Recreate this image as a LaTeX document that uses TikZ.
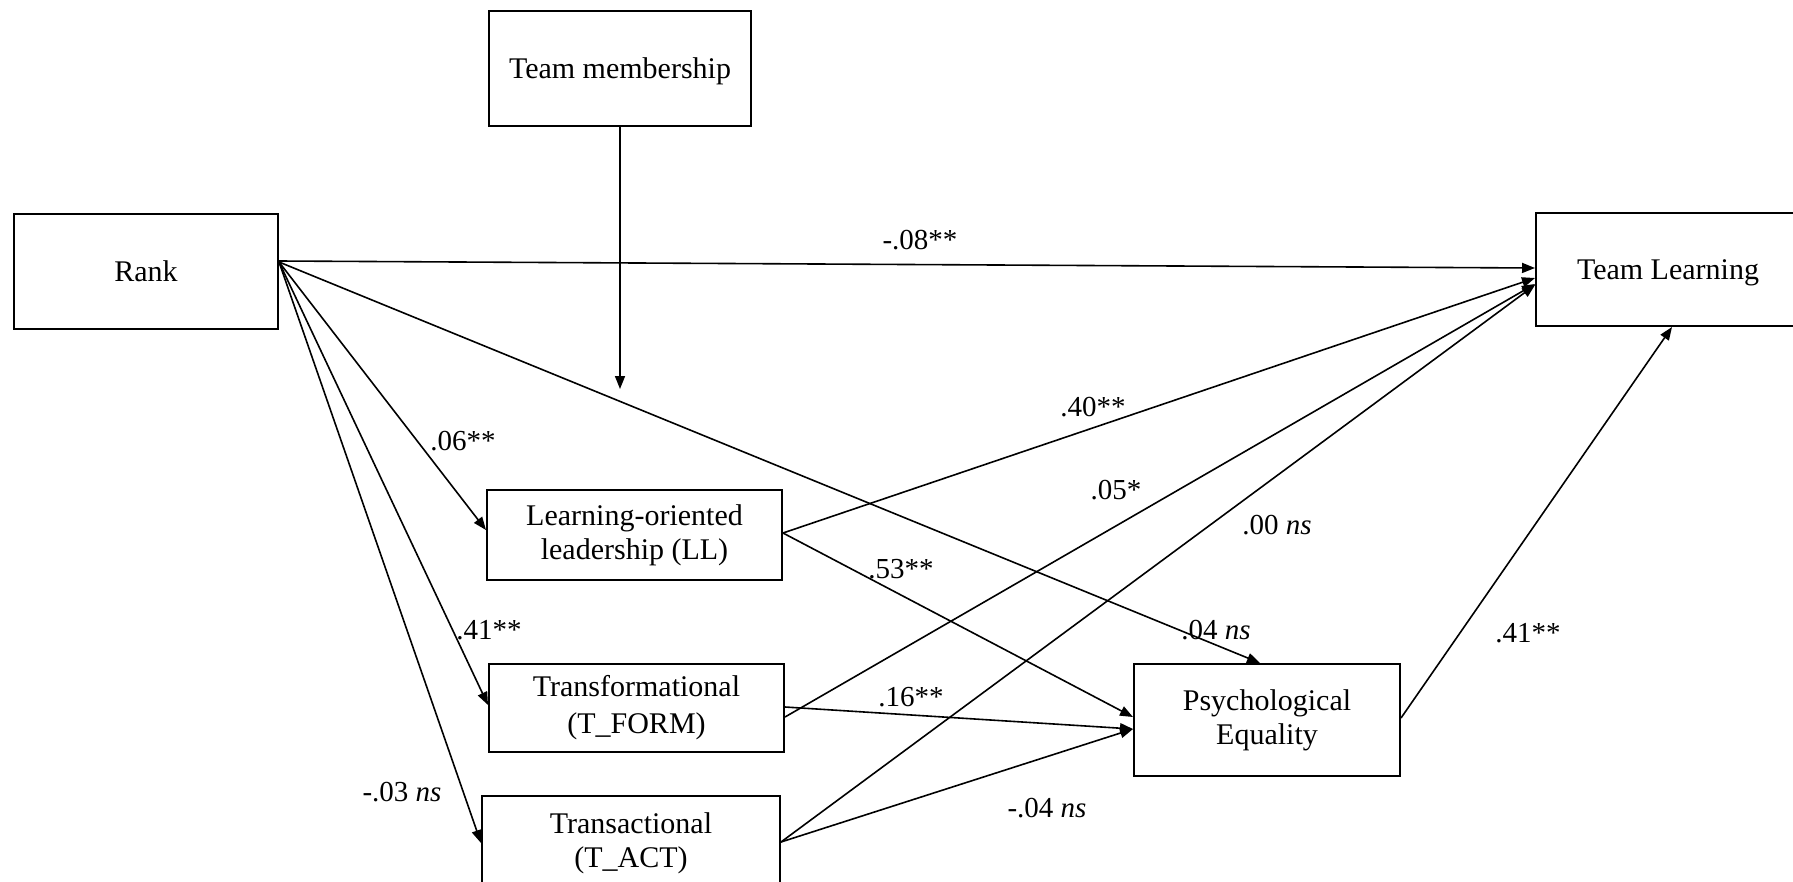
\documentclass[tikz,border=0pt]{standalone}
\usepackage{fontspec}
\setmainfont{Liberation Serif}
\usetikzlibrary{arrows.meta}
\begin{document}
\begin{tikzpicture}[x=1pt,y=-1pt,
  box/.style={draw,line width=2pt,rectangle,align=center,inner sep=0pt,
    font=\fontsize{30}{34}\selectfont},
  oneline/.style={text height=20pt,text depth=0pt},
  link/.style={line width=1.6pt,-{Triangle[length=13pt,width=10pt]}},
  coef/.style={inner sep=0pt,font=\fontsize{29}{34}\selectfont}]
\useasboundingbox (0,0) rectangle (1793,881);
\clip (0,0) rectangle (1793,881);

% variables
\node[box,oneline,minimum width=262pt,minimum height=115pt] (team) at (620,68.5) {Team membership};
\node[box,oneline,minimum width=264pt,minimum height=115pt] (rank) at (146,271.5) {Rank};
\node[box,oneline,minimum width=264pt,minimum height=113pt] (tl) at (1668,269.5) {Team Learning};
\node[box,minimum width=295pt,minimum height=90pt] (ll) at (634.5,535) {Learning-oriented\\leadership (LL)};
\node[box,font=\fontsize{30}{37}\selectfont,minimum width=295pt,minimum height=88pt] (tform) at (636.5,708) {Transformational\\(T\_FORM)};
\node[box,minimum width=298pt,minimum height=94pt] (tact) at (631,843) {Transactional\\(T\_ACT)};
\node[box,minimum width=266pt,minimum height=112pt] (pe) at (1267,720) {Psychological\\Equality};

% moderator arrow ends on the Rank -> Psychological Equality path
\coordinate (mod) at (620,389);
\draw[link] (team.south) -- (mod);

% paths from Rank
\draw[link] ([yshift=10.5pt]rank.east) -- ([yshift=1.5pt]tl.west);
\draw[link] ([yshift=9.5pt]rank.east) -- ([xshift=-7pt]pe.north);
\draw[link] ([yshift=9.5pt]rank.east) -- ([yshift=5pt]ll.west);
\draw[link] ([yshift=9.5pt]rank.east) -- ([yshift=3pt]tform.west);
\draw[link] ([yshift=9.5pt]rank.east) -- (tact.west);

% paths from the leadership styles
\draw[link] ([yshift=2pt]ll.east) -- ([yshift=-8.5pt]tl.west);
\draw[link] ([yshift=2pt]ll.east) -- ([yshift=3pt]pe.west);
\draw[link] ([yshift=1pt]tform.east) -- ([yshift=-9pt]pe.west);
\draw[link] ([yshift=-9pt]tform.east) -- ([yshift=-14.5pt]tl.west);
\draw[link] ([yshift=1pt]tact.east) -- ([yshift=-15.5pt]tl.west);
\draw[link] ([yshift=1pt]tact.east) -- ([yshift=-9pt]pe.west);

% Psychological Equality -> Team Learning
\draw[link] ([yshift=2pt]pe.east) -- ([xshift=4pt]tl.south);

% path coefficients
\node[coef] (c1) at (920,240) {-.08**};
\node[coef] (c2) at (463,441) {.06**};
\node[coef] (c3) at (489,630) {.41**};
\node[coef] (c4) at (402,792) {-.03 \textit{ns}};
\node[coef] (c5) at (901,569) {.53**};
\node[coef] (c6) at (911,697) {.16**};
\node[coef] (c7) at (1093,407) {.40**};
\node[coef] (c8) at (1116,490) {.05*};
\node[coef] (c9) at (1277,525) {.00 \textit{ns}};
\node[coef] (c10) at (1216,630) {.04 \textit{ns}};
\node[coef] (c11) at (1528,633) {.41**};
\node[coef] (c12) at (1047,808) {-.04 \textit{ns}};
\end{tikzpicture}
\end{document}
